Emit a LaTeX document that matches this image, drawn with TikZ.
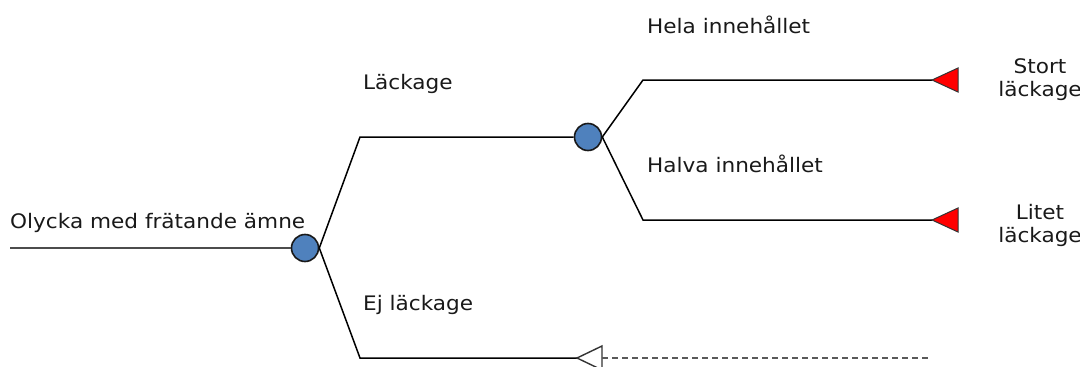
\documentclass[tikz,border=0pt]{standalone}
\usepackage{fontspec}
\setmainfont[FakeStretch=1.08]{DejaVu Sans}
\begin{document}
\begin{tikzpicture}[x=1pt,y=-1pt,
  lbl/.style={font=\fontsize{20}{23}\selectfont, text=black!90, inner sep=0pt},
  chance/.style={circle, draw=black!90, line width=1.6pt, fill={rgb,255:red,79;green,129;blue,189}, minimum size=27pt, inner sep=0pt},
  branch/.style={draw=black, line width=1.5pt},
  endred/.style={draw=black!80, line width=1pt, fill=red},
  endopen/.style={draw=black!80, line width=1.4pt, fill=white}]
\useasboundingbox (0,0) rectangle (1080,367);
% start
\coordinate (s) at (10,248);
\node[chance] (c1) at (305,248) {};
\node[chance] (c2) at (588,137) {};
\coordinate (u1) at (360,137);
\coordinate (d1) at (360,358);
\coordinate (u2) at (643,80);
\coordinate (d2) at (643,220);
\coordinate (e1) at (932,80);
\coordinate (e2) at (932,220);
\coordinate (e3) at (577,358);
\coordinate (f3) at (930,358);
\draw[draw=black!70, line width=1.3pt] (s) -- (c1.west);
\draw[branch] (c1.east) -- (u1) -- (c2.west);
\draw[branch] (c1.east) -- (d1) -- (e3);
\draw[branch] (c2.east) -- (u2) -- (e1);
\draw[branch] (c2.east) -- (d2) -- (e2);
\draw[endred] (e1) -- (958,68) -- (958,92) -- cycle;
\draw[endred] (e2) -- (958,208) -- (958,232) -- cycle;
\draw[endopen] (e3) -- (602,346) -- (602,370) -- cycle;
\draw[draw=black!65, line width=1.3pt, dash pattern=on 6pt off 4pt] (602,358) -- (f3);
% labels
\node[lbl, anchor=base west] (t0) at (10,228) {Olycka med frätande ämne};
\node[lbl, anchor=base west] (t1) at (363,89) {Läckage};
\node[lbl, anchor=base west] (t2) at (363,310) {Ej läckage};
\node[lbl, anchor=base west] (t3) at (647,33) {Hela innehållet};
\node[lbl, anchor=base west] (t4) at (647,172) {Halva innehållet};
\node[lbl, align=center] (t5) at (1040,80) {Stort\\läckage};
\node[lbl, align=center] (t6) at (1040,225) {Litet\\läckage};
\end{tikzpicture}
\end{document}
